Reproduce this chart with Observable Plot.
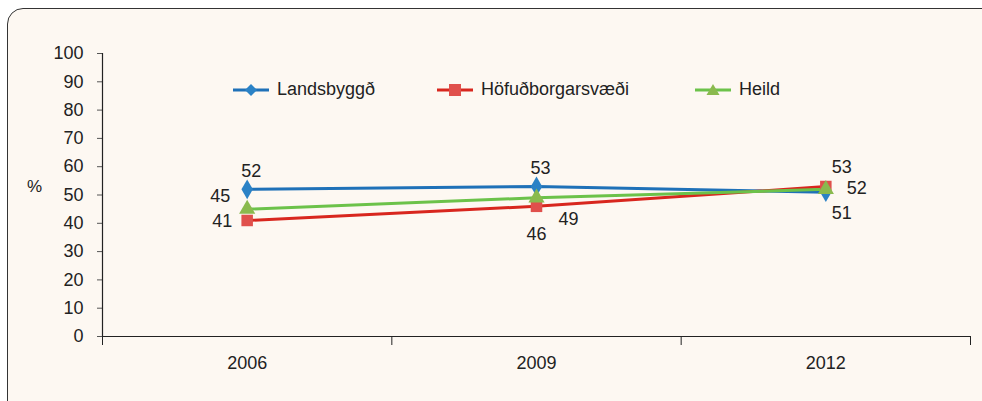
<!DOCTYPE html>
<html>
<head>
<meta charset="utf-8">
<script src="https://cdn.jsdelivr.net/npm/d3@7"></script>
<script src="https://cdn.jsdelivr.net/npm/@observablehq/plot@0.6"></script>
<style>
  html, body { margin: 0; padding: 0; background: #ffffff; overflow: hidden; }
  body { width: 982px; height: 401px; position: relative; font-family: "Liberation Sans", Arial, sans-serif; }
  #card { position: absolute; left: 7px; top: 8px; width: 1000px; height: 430px; background: #fdf8f2;
          border: 1.5px solid #333; border-radius: 16px; box-sizing: border-box; }
  #chart { position: absolute; left: 0; top: 0; }
  #legend { position: absolute; left: 0; top: 0; width: 982px; height: 401px; pointer-events: none; }
  .lg { position: absolute; top: 79px; display: flex; align-items: center; font-size: 18px; color: #222; }
  .lg svg { margin-right: 8px; }
  #pct { position: absolute; left: 27px; top: 177px; font-size: 17px; color: #222; }
</style>
</head>
<body>
<div id="card"></div>
<div id="chart"></div>
<div id="legend"></div>
<div id="pct">%</div>
<script>
const years = [2006, 2009, 2012];
const seriesNames = ["Landsbyggð", "Höfuðborgarsvæði", "Heild"];
const landsbyggd = [52, 53, 51];
const hofudborg = [41, 46, 53];
const heild = [45, 49, 52];
const yTicks = [0, 10, 20, 30, 40, 50, 60, 70, 80, 90, 100];

// styling (not data)
const lineColors = ["#1f71b8", "#d8261e", "#6cc24a"];
const markColors = ["#2b82c6", "#e0504c", "#8aba4e"];
const symbols = ["diamond", "square", "triangle"];
const labelPlacement = [
  ["above", "above", "belowRight"],
  ["left", "below", "aboveRight"],
  ["aboveLeft", "belowRightFar", "right"]
];
const offsets = {
  above: [4, -18], below: [0, 28], left: [-25, 1], aboveLeft: [-27, -13],
  belowRight: [16, 21], aboveRight: [16, -19], belowRightFar: [32, 21], right: [31, -1]
};

const valuesBySeries = [landsbyggd, hofudborg, heild];
const data = [];
seriesNames.forEach((s, i) => years.forEach((y, j) => {
  data.push({series: s, si: i, year: y, value: valuesBySeries[i][j], place: labelPlacement[i][j]});
}));

const drawOrder = [0, 1, 2];
const marks = [];
for (const i of drawOrder) {
  const d = data.filter(r => r.si === i);
  marks.push(Plot.line(d, {x: "year", y: "value", stroke: lineColors[i], strokeWidth: 3}));
}
for (const i of drawOrder) {
  const d = data.filter(r => r.si === i);
  marks.push(Plot.dot(d, {x: "year", y: "value", symbol: () => symbols[i], fill: markColors[i], stroke: "none", r: i === 1 ? 6.5 : 6}));
}
for (const [name, [dx, dy]] of Object.entries(offsets)) {
  marks.push(Plot.text(data.filter(r => r.place === name), {
    x: "year", y: "value", text: d => String(d.value), dx, dy,
    fontSize: 18, fill: "#222", textAnchor: "middle"
  }));
}

const chart = Plot.plot({
  width: 982,
  height: 401,
  marginLeft: 102,
  marginRight: 12,
  marginTop: 53,
  marginBottom: 65,
  style: {background: "transparent", fontFamily: "Liberation Sans, Arial, sans-serif", fontSize: "18px", color: "#222"},
  x: {type: "linear", domain: [2004.5, 2013.5], axis: null, label: null},
  y: {domain: [0, 100], axis: null, label: null},
  marks: [
    Plot.axisY(yTicks, {label: null, tickSize: 5, tickPadding: 14, stroke: "#555", fontSize: 18, fill: "#222", tickFormat: d => String(d)}),
    Plot.ruleX([2004.5], {y1: 0, y2: 100, stroke: "#222", strokeWidth: 1.2}),
    Plot.axisX([2004.5, 2007.5, 2010.5, 2013.5], {label: null, tickSize: 9, stroke: "#222", tickFormat: () => ""}),
    Plot.axisX(years, {label: null, tickSize: 0, tickPadding: 20, fontSize: 18, fill: "#222", tickFormat: d => String(d)}),
    Plot.ruleY([0], {stroke: "#222", strokeWidth: 1.2}),
    ...marks
  ]
});
document.getElementById("chart").appendChild(chart);

// legend
const legend = document.getElementById("legend");
const legendLeft = [233, 437, 695];
const symbolPaths = {
  diamond: "M18,1 L24,7 L18,13 L12,7 Z",
  square: "M12,1 L24,1 L24,13 L12,13 Z",
  triangle: "M18,1 L24.5,12 L11.5,12 Z"
};
seriesNames.forEach((name, i) => {
  const div = document.createElement("div");
  div.className = "lg";
  div.style.left = legendLeft[i] + "px";
  div.innerHTML = `<svg width="36" height="14"><line x1="0" y1="7" x2="36" y2="7" stroke="${lineColors[i]}" stroke-width="3"/><path d="${symbolPaths[symbols[i]]}" fill="${markColors[i]}"/></svg><span>${name}</span>`;
  legend.appendChild(div);
});
</script>
</body>
</html>
